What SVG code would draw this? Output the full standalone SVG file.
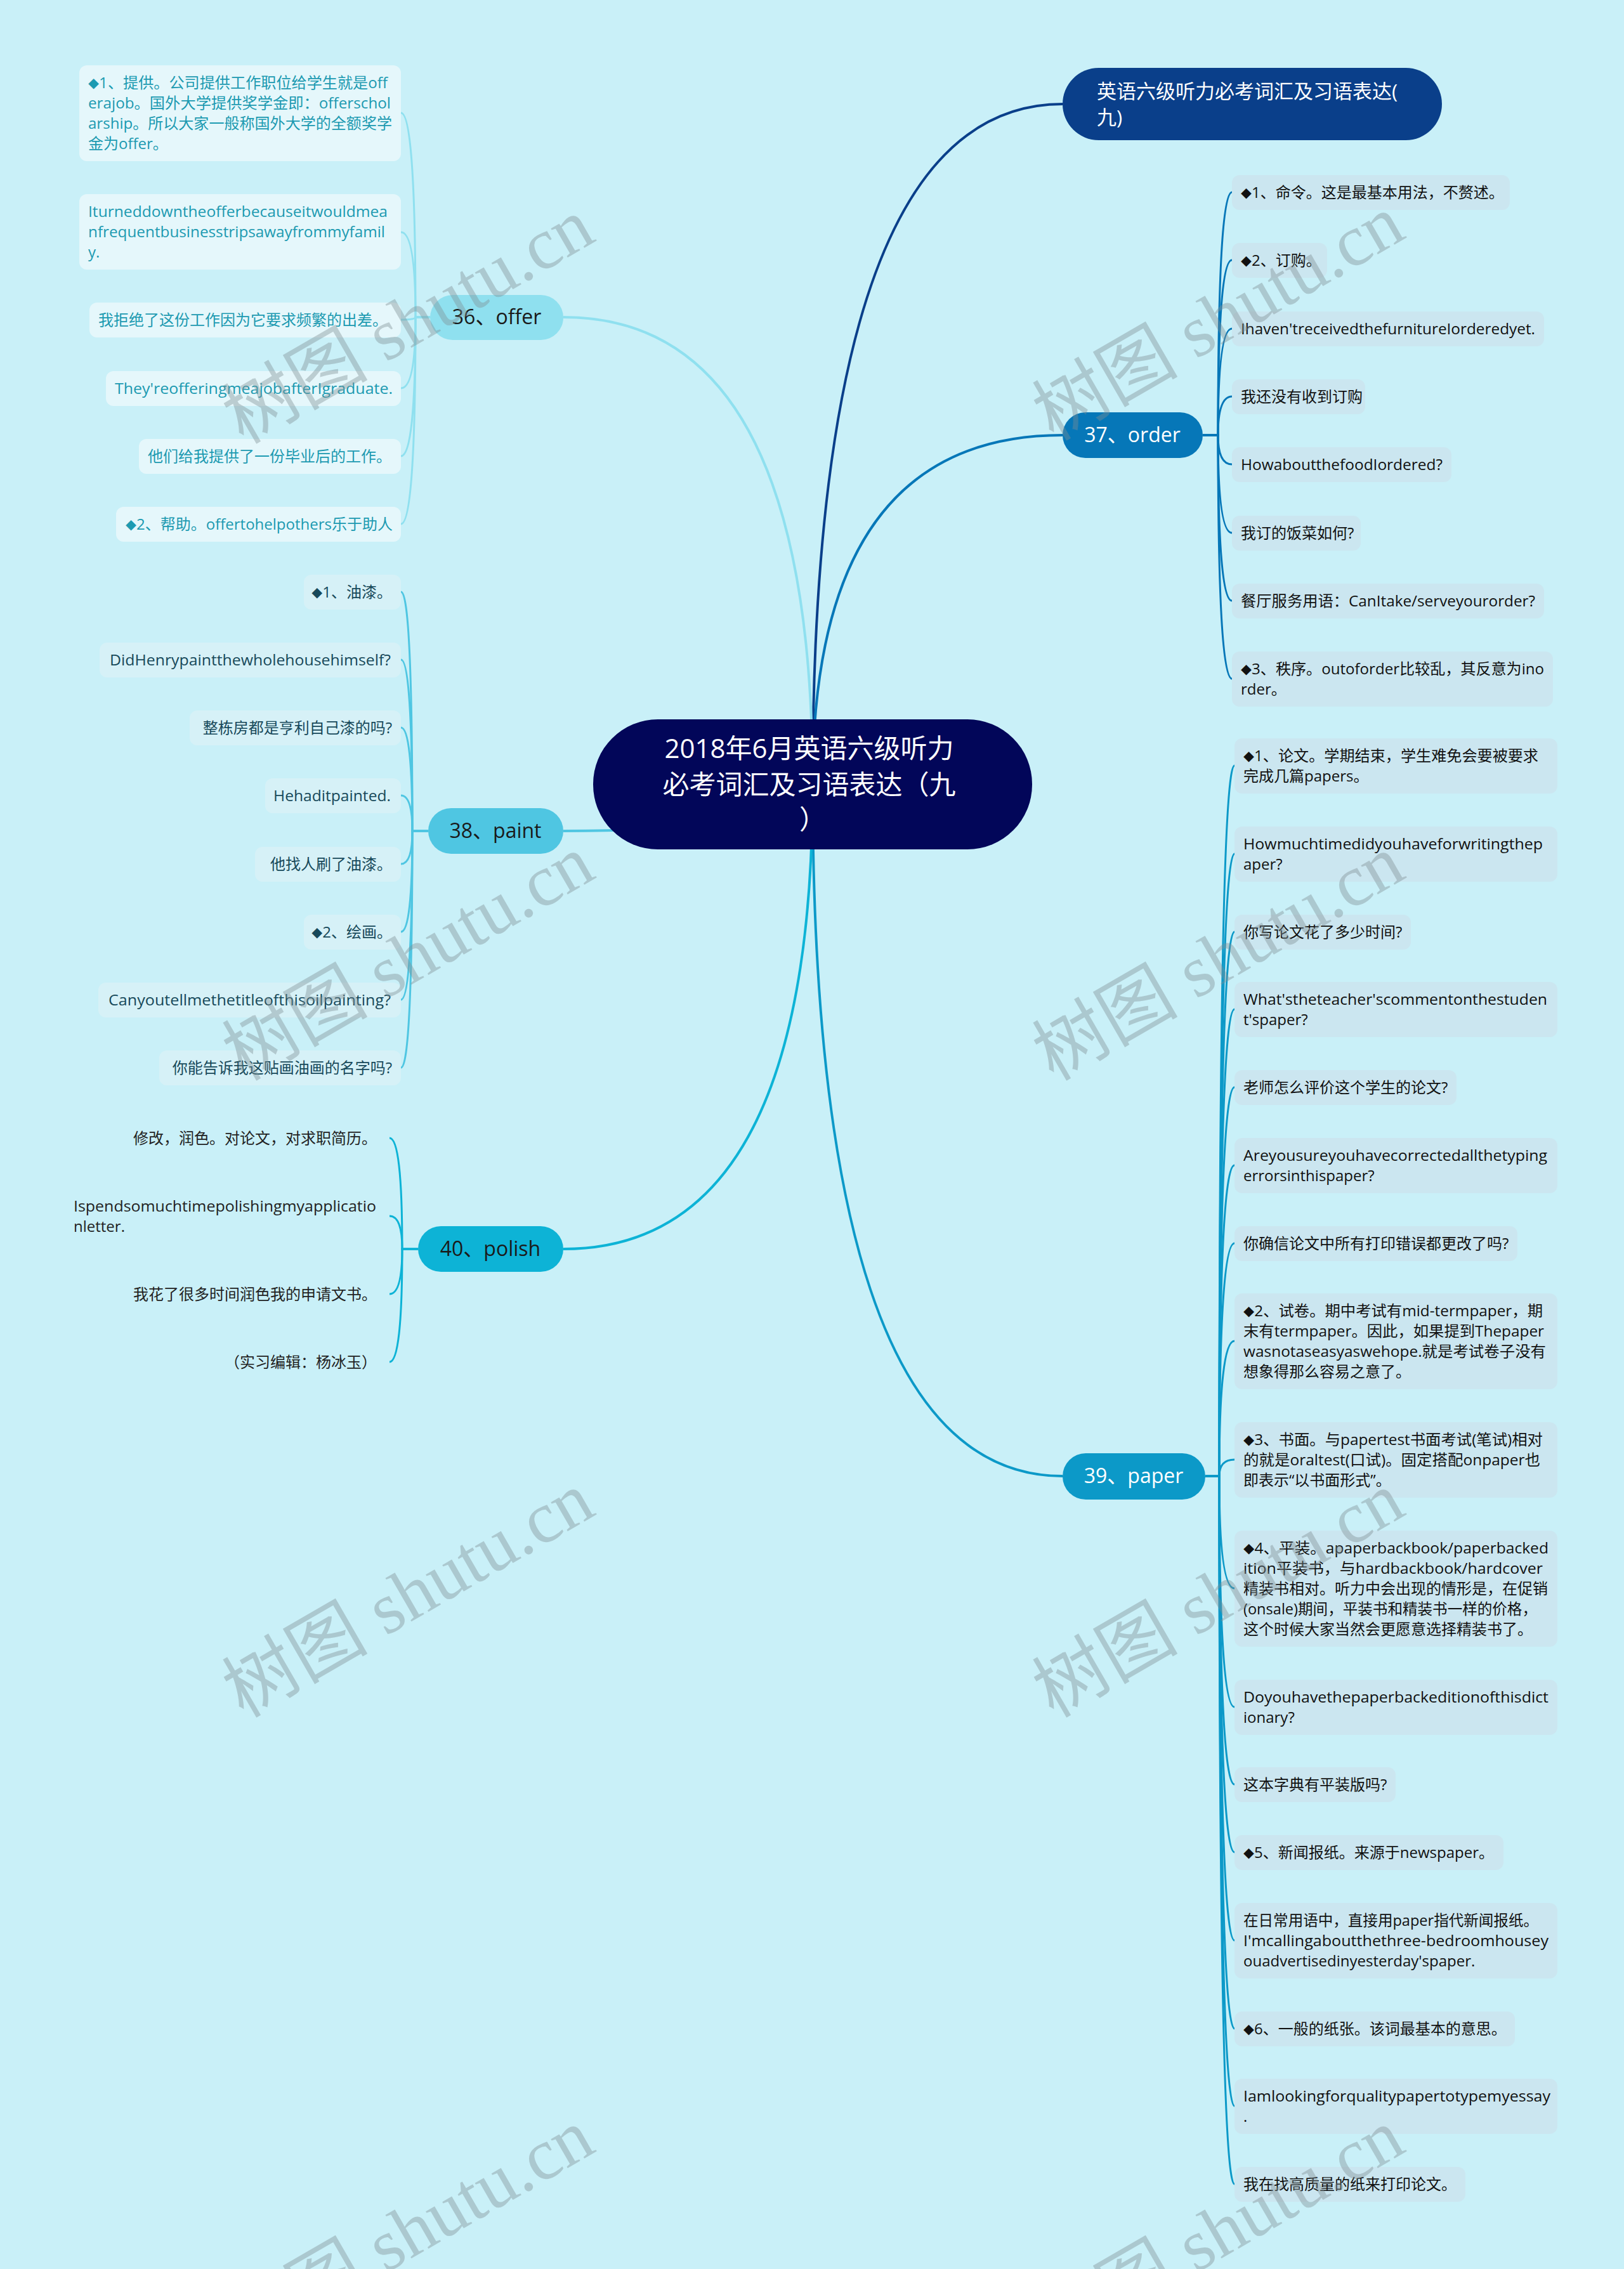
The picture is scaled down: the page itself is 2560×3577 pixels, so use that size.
<svg xmlns="http://www.w3.org/2000/svg" width="2560" height="3577" viewBox="0 0 2560 3577">
<style>
.t{font-family:"Open Sans","Noto Sans CJK SC",sans-serif;font-size:24px}
.d{font-size:17px}
.to{fill:#1c9ab1}
.tp{fill:#17495a}
.tr{fill:#111111}
.tl{fill:#222222}
.bo{fill:#e5f7fb}
.bp{fill:#d6f1f7}
.br{fill:#cbe6f0}
.c{fill:none;stroke-width:3}
.m{fill:none;stroke-width:4}
.nl{font-family:"Open Sans","Noto Sans CJK SC",sans-serif;font-size:32px;text-anchor:middle}
.wm{font-family:"Liberation Serif","Noto Sans CJK SC",serif;font-size:115px;fill:#7f8f94;opacity:0.4;text-anchor:middle}
</style>
<rect width="2560" height="3577" fill="#c9f0f8"/>

<g id="connectors">
  <path class="m" stroke="#0a3f8a" d="M1281,1236 Q1281,164 1675,164"/>
  <path class="m" stroke="#0677b8" d="M1281,1236 Q1281,686 1675,686"/>
  <path class="m" stroke="#0c99c8" d="M1281,1236 Q1281,2327 1675,2327"/>
  <path class="m" stroke="#8fe0ef" d="M1281,1236 Q1281,500 888,500"/>
  <path class="m" stroke="#4fc6e2" d="M1281,1236 Q1281,1310 888,1310"/>
  <path class="m" stroke="#0db3d6" d="M1281,1236 Q1281,1969 888,1969"/>
  <g stroke="#8fe0ef">
    <path class="c" d="M678,500 L655,500 Q655,178 632,178"/>
    <path class="c" d="M678,500 L655,500 Q655,366 632,366"/>
    <path class="c" d="M678,500 L655,500 Q655,504 632,504"/>
    <path class="c" d="M678,500 L655,500 Q655,612 632,612"/>
    <path class="c" d="M678,500 L655,500 Q655,719 632,719"/>
    <path class="c" d="M678,500 L655,500 Q655,826 632,826"/>
  </g>
  <g stroke="#4fc6e2">
    <path class="c" d="M675,1310 L650,1310 Q650,933 632,933"/>
    <path class="c" d="M675,1310 L650,1310 Q650,1040 632,1040"/>
    <path class="c" d="M675,1310 L650,1310 Q650,1147 632,1147"/>
    <path class="c" d="M675,1310 L650,1310 Q650,1254 632,1254"/>
    <path class="c" d="M675,1310 L650,1310 Q650,1362 632,1362"/>
    <path class="c" d="M675,1310 L650,1310 Q650,1469 632,1469"/>
    <path class="c" d="M675,1310 L650,1310 Q650,1576 632,1576"/>
    <path class="c" d="M675,1310 L650,1310 Q650,1683 632,1683"/>
  </g>
  <g stroke="#0db3d6">
    <path class="c" d="M659,1969 L634,1969 Q634,1794 614,1794"/>
    <path class="c" d="M659,1969 L634,1969 Q634,1917 614,1917"/>
    <path class="c" d="M659,1969 L634,1969 Q634,2040 614,2040"/>
    <path class="c" d="M659,1969 L634,1969 Q634,2147 614,2147"/>
  </g>
  <g stroke="#0677b8">
    <path class="c" d="M1896,686 L1920,686 Q1920,303 1942,303"/>
    <path class="c" d="M1896,686 L1920,686 Q1920,410 1942,410"/>
    <path class="c" d="M1896,686 L1920,686 Q1920,518 1942,518"/>
    <path class="c" d="M1896,686 L1920,686 Q1920,625 1942,625"/>
    <path class="c" d="M1896,686 L1920,686 Q1920,732 1942,732"/>
    <path class="c" d="M1896,686 L1920,686 Q1920,840 1942,840"/>
    <path class="c" d="M1896,686 L1920,686 Q1920,947 1942,947"/>
    <path class="c" d="M1896,686 L1920,686 Q1920,1070 1942,1070"/>
  </g>
  <g stroke="#0c99c8">
    <path class="c" d="M1900,2327 L1922,2327 Q1922,1207 1946,1207"/>
    <path class="c" d="M1900,2327 L1922,2327 Q1922,1346 1946,1346"/>
    <path class="c" d="M1900,2327 L1922,2327 Q1922,1469 1946,1469"/>
    <path class="c" d="M1900,2327 L1922,2327 Q1922,1591 1946,1591"/>
    <path class="c" d="M1900,2327 L1922,2327 Q1922,1714 1946,1714"/>
    <path class="c" d="M1900,2327 L1922,2327 Q1922,1837 1946,1837"/>
    <path class="c" d="M1900,2327 L1922,2327 Q1922,1960 1946,1960"/>
    <path class="c" d="M1900,2327 L1922,2327 Q1922,2114 1946,2114"/>
    <path class="c" d="M1900,2327 L1922,2327 Q1922,2301 1946,2301"/>
    <path class="c" d="M1900,2327 L1922,2327 Q1922,2504 1946,2504"/>
    <path class="c" d="M1900,2327 L1922,2327 Q1922,2691 1946,2691"/>
    <path class="c" d="M1900,2327 L1922,2327 Q1922,2813 1946,2813"/>
    <path class="c" d="M1900,2327 L1922,2327 Q1922,2920 1946,2920"/>
    <path class="c" d="M1900,2327 L1922,2327 Q1922,3059 1946,3059"/>
    <path class="c" d="M1900,2327 L1922,2327 Q1922,3198 1946,3198"/>
    <path class="c" d="M1900,2327 L1922,2327 Q1922,3320 1946,3320"/>
    <path class="c" d="M1900,2327 L1922,2327 Q1922,3443 1946,3443"/>
  </g>
</g>

<g id="root">
  <rect x="935" y="1134" width="692" height="205" rx="102" fill="#020659"/>
  <text class="nl" font-size="42" style="font-size:42px" fill="#ffffff">
    <tspan x="1281" y="1195">2018年6月英语六级听力</tspan>
    <tspan x="1281" y="1252">必考词汇及习语表达（九</tspan>
    <tspan x="1281" y="1307">）</tspan>
  </text>
</g>

<g id="n-title">
  <rect x="1675" y="107" width="598" height="114" rx="57" fill="#0a3f8a"/>
  <text class="t" style="font-size:31px" fill="#ffffff">
    <tspan x="1729" y="155">英语六级听力必考词汇及习语表达(</tspan>
    <tspan x="1729" y="196">九)</tspan>
  </text>
</g>

<g id="n-offer">
  <rect x="678" y="465" width="210" height="71" rx="35.5" fill="#8fe0ef"/>
  <text class="nl" x="783" y="511" fill="#1a1a1a">36、offer</text>
</g>
<g id="n-order">
  <rect x="1675" y="650" width="221" height="72" rx="36" fill="#0677b8"/>
  <text class="nl" x="1785" y="697" fill="#ffffff">37、order</text>
</g>
<g id="n-paint">
  <rect x="675" y="1274" width="213" height="72" rx="36" fill="#4fc6e2"/>
  <text class="nl" x="781" y="1321" fill="#1a1a1a">38、paint</text>
</g>
<g id="n-paper">
  <rect x="1675" y="2291" width="225" height="73" rx="36.5" fill="#0c99c8"/>
  <text class="nl" x="1787" y="2338" fill="#ffffff">39、paper</text>
</g>
<g id="n-polish">
  <rect x="659" y="1933" width="229" height="72" rx="36" fill="#0db3d6"/>
  <text class="nl" x="773" y="1980" fill="#1a1a1a">40、polish</text>
</g>

<!-- offer leaves -->
<g id="offer-1">
  <rect class="bo" x="125" y="103" width="507" height="151" rx="12"/>
  <text class="t to" x="139" y="139" textLength="472" lengthAdjust="spacingAndGlyphs"><tspan class="d">◆</tspan>1、提供。公司提供工作职位给学生就是off</text>
  <text class="t to" x="139" y="171" textLength="477" lengthAdjust="spacingAndGlyphs">erajob。国外大学提供奖学金即：offerschol</text>
  <text class="t to" x="139" y="203" textLength="479" lengthAdjust="spacingAndGlyphs">arship。所以大家一般称国外大学的全额奖学</text>
  <text class="t to" x="139" y="235">金为offer。</text>
</g>
<g id="offer-2">
  <rect class="bo" x="125" y="306" width="507" height="119" rx="12"/>
  <text class="t to" x="139" y="342" textLength="472" lengthAdjust="spacingAndGlyphs">Iturneddowntheofferbecauseitwouldmea</text>
  <text class="t to" x="139" y="374" textLength="468" lengthAdjust="spacingAndGlyphs">nfrequentbusinesstripsawayfrommyfamil</text>
  <text class="t to" x="139" y="406">y.</text>
</g>
<g id="offer-3">
  <rect class="bo" x="141" y="477" width="491" height="55" rx="12"/>
  <text class="t to" x="155" y="513">我拒绝了这份工作因为它要求频繁的出差。</text>
</g>
<g id="offer-4">
  <rect class="bo" x="167" y="585" width="465" height="55" rx="12"/>
  <text class="t to" x="181" y="621" textLength="438" lengthAdjust="spacingAndGlyphs">They'reofferingmeajobafterIgraduate.</text>
</g>
<g id="offer-5">
  <rect class="bo" x="219" y="692" width="413" height="55" rx="12"/>
  <text class="t to" x="233" y="728">他们给我提供了一份毕业后的工作。</text>
</g>
<g id="offer-6">
  <rect class="bo" x="183" y="799" width="449" height="55" rx="12"/>
  <text class="t to" x="619" y="835" text-anchor="end"><tspan class="d">◆</tspan>2、帮助。offertohelpothers乐于助人</text>
</g>

<!-- paint leaves -->
<g id="paint-1">
  <rect class="bp" x="479" y="906" width="153" height="55" rx="12"/>
  <text class="t tp" x="618" y="942" text-anchor="end"><tspan class="d">◆</tspan>1、油漆。</text>
</g>
<g id="paint-2">
  <rect class="bp" x="157" y="1013" width="475" height="55" rx="12"/>
  <text class="t tp" x="173" y="1049" textLength="443" lengthAdjust="spacingAndGlyphs">DidHenrypaintthewholehousehimself?</text>
</g>
<g id="paint-3">
  <rect class="bp" x="299" y="1120" width="333" height="55" rx="12"/>
  <text class="t tp" x="618" y="1156" text-anchor="end">整栋房都是亨利自己漆的吗?</text>
</g>
<g id="paint-4">
  <rect class="bp" x="418" y="1227" width="214" height="55" rx="12"/>
  <text class="t tp" x="431" y="1263" textLength="185" lengthAdjust="spacingAndGlyphs">Hehaditpainted.</text>
</g>
<g id="paint-5">
  <rect class="bp" x="402" y="1335" width="230" height="55" rx="12"/>
  <text class="t tp" x="618" y="1371" text-anchor="end">他找人刷了油漆。</text>
</g>
<g id="paint-6">
  <rect class="bp" x="479" y="1442" width="153" height="55" rx="12"/>
  <text class="t tp" x="618" y="1478" text-anchor="end"><tspan class="d">◆</tspan>2、绘画。</text>
</g>
<g id="paint-7">
  <rect class="bp" x="155" y="1549" width="477" height="55" rx="12"/>
  <text class="t tp" x="171" y="1585" textLength="445" lengthAdjust="spacingAndGlyphs">Canyoutellmethetitleofthisoilpainting?</text>
</g>
<g id="paint-8">
  <rect class="bp" x="251" y="1656" width="381" height="55" rx="12"/>
  <text class="t tp" x="618" y="1692" text-anchor="end">你能告诉我这贴画油画的名字吗?</text>
</g>

<!-- polish leaves -->
<g id="polish-1">
  <text class="t tl" x="594" y="1803" text-anchor="end">修改，润色。对论文，对求职简历。</text>
</g>
<g id="polish-2">
  <text class="t tl" x="116" y="1910" textLength="477" lengthAdjust="spacingAndGlyphs">Ispendsomuchtimepolishingmyapplicatio</text>
  <text class="t tl" x="116" y="1942">nletter.</text>
</g>
<g id="polish-3">
  <text class="t tl" x="594" y="2049" text-anchor="end">我花了很多时间润色我的申请文书。</text>
</g>
<g id="polish-4">
  <text class="t tl" x="594" y="2156" text-anchor="end">（实习编辑：杨冰玉）</text>
</g>

<!-- order leaves -->
<g id="order-1">
  <rect class="br" x="1942" y="276" width="438" height="55" rx="12"/>
  <text class="t tr" x="1956" y="312"><tspan class="d">◆</tspan>1、命令。这是最基本用法，不赘述。</text>
</g>
<g id="order-2">
  <rect class="br" x="1942" y="383" width="150" height="55" rx="12"/>
  <text class="t tr" x="1956" y="419"><tspan class="d">◆</tspan>2、订购。</text>
</g>
<g id="order-3">
  <rect class="br" x="1942" y="491" width="492" height="55" rx="12"/>
  <text class="t tr" x="1956" y="527" textLength="464" lengthAdjust="spacingAndGlyphs">Ihaven'treceivedthefurnitureIorderedyet.</text>
</g>
<g id="order-4">
  <rect class="br" x="1942" y="598" width="210" height="55" rx="12"/>
  <text class="t tr" x="1956" y="634">我还没有收到订购</text>
</g>
<g id="order-5">
  <rect class="br" x="1942" y="705" width="346" height="55" rx="12"/>
  <text class="t tr" x="1956" y="741" textLength="318" lengthAdjust="spacingAndGlyphs">HowaboutthefoodIordered?</text>
</g>
<g id="order-6">
  <rect class="br" x="1942" y="813" width="203" height="55" rx="12"/>
  <text class="t tr" x="1956" y="849">我订的饭菜如何?</text>
</g>
<g id="order-7">
  <rect class="br" x="1942" y="920" width="492" height="55" rx="12"/>
  <text class="t tr" x="1956" y="956" textLength="464" lengthAdjust="spacingAndGlyphs">餐厅服务用语：CanItake/serveyourorder?</text>
</g>
<g id="order-8">
  <rect class="br" x="1942" y="1027" width="506" height="87" rx="12"/>
  <text class="t tr" x="1956" y="1063" textLength="478" lengthAdjust="spacingAndGlyphs"><tspan class="d">◆</tspan>3、秩序。outoforder比较乱，其反意为ino</text>
  <text class="t tr" x="1956" y="1095">rder。</text>
</g>

<!-- paper leaves -->
<g id="paper-1">
  <rect class="br" x="1946" y="1164" width="509" height="87" rx="12"/>
  <text class="t tr" x="1960" y="1200" textLength="465" lengthAdjust="spacingAndGlyphs"><tspan class="d">◆</tspan>1、论文。学期结束，学生难免会要被要求</text>
  <text class="t tr" x="1960" y="1232">完成几篇papers。</text>
</g>
<g id="paper-2">
  <rect class="br" x="1946" y="1303" width="509" height="87" rx="12"/>
  <text class="t tr" x="1960" y="1339" textLength="472" lengthAdjust="spacingAndGlyphs">Howmuchtimedidyouhaveforwritingthep</text>
  <text class="t tr" x="1960" y="1371">aper?</text>
</g>
<g id="paper-3">
  <rect class="br" x="1946" y="1442" width="278" height="55" rx="12"/>
  <text class="t tr" x="1960" y="1478">你写论文花了多少时间?</text>
</g>
<g id="paper-4">
  <rect class="br" x="1946" y="1548" width="509" height="87" rx="12"/>
  <text class="t tr" x="1960" y="1584" textLength="479" lengthAdjust="spacingAndGlyphs">What'stheteacher'scommentonthestuden</text>
  <text class="t tr" x="1960" y="1616">t'spaper?</text>
</g>
<g id="paper-5">
  <rect class="br" x="1946" y="1687" width="350" height="55" rx="12"/>
  <text class="t tr" x="1960" y="1723">老师怎么评价这个学生的论文?</text>
</g>
<g id="paper-6">
  <rect class="br" x="1946" y="1794" width="509" height="87" rx="12"/>
  <text class="t tr" x="1960" y="1830" textLength="479" lengthAdjust="spacingAndGlyphs">Areyousureyouhavecorrectedallthetyping</text>
  <text class="t tr" x="1960" y="1862">errorsinthispaper?</text>
</g>
<g id="paper-7">
  <rect class="br" x="1946" y="1933" width="446" height="55" rx="12"/>
  <text class="t tr" x="1960" y="1969">你确信论文中所有打印错误都更改了吗?</text>
</g>
<g id="paper-8">
  <rect class="br" x="1946" y="2039" width="509" height="151" rx="12"/>
  <text class="t tr" x="1960" y="2075" textLength="472" lengthAdjust="spacingAndGlyphs"><tspan class="d">◆</tspan>2、试卷。期中考试有mid-termpaper，期</text>
  <text class="t tr" x="1960" y="2107" textLength="474" lengthAdjust="spacingAndGlyphs">末有termpaper。因此，如果提到Thepaper</text>
  <text class="t tr" x="1960" y="2139" textLength="477" lengthAdjust="spacingAndGlyphs">wasnotaseasyaswehope.就是考试卷子没有</text>
  <text class="t tr" x="1960" y="2171">想象得那么容易之意了。</text>
</g>
<g id="paper-9">
  <rect class="br" x="1946" y="2242" width="509" height="119" rx="12"/>
  <text class="t tr" x="1960" y="2278" textLength="472" lengthAdjust="spacingAndGlyphs"><tspan class="d">◆</tspan>3、书面。与papertest书面考试(笔试)相对</text>
  <text class="t tr" x="1960" y="2310" textLength="468" lengthAdjust="spacingAndGlyphs">的就是oraltest(口试)。固定搭配onpaper也</text>
  <text class="t tr" x="1960" y="2342">即表示“以书面形式”。</text>
</g>
<g id="paper-10">
  <rect class="br" x="1946" y="2413" width="509" height="183" rx="12"/>
  <text class="t tr" x="1960" y="2449" textLength="481" lengthAdjust="spacingAndGlyphs"><tspan class="d">◆</tspan>4、平装。apaperbackbook/paperbacked</text>
  <text class="t tr" x="1960" y="2481" textLength="472" lengthAdjust="spacingAndGlyphs">ition平装书，与hardbackbook/hardcover</text>
  <text class="t tr" x="1960" y="2513">精装书相对。听力中会出现的情形是，在促销</text>
  <text class="t tr" x="1960" y="2545" textLength="463" lengthAdjust="spacingAndGlyphs">(onsale)期间，平装书和精装书一样的价格，</text>
  <text class="t tr" x="1960" y="2577">这个时候大家当然会更愿意选择精装书了。</text>
</g>
<g id="paper-11">
  <rect class="br" x="1946" y="2648" width="509" height="87" rx="12"/>
  <text class="t tr" x="1960" y="2684" textLength="481" lengthAdjust="spacingAndGlyphs">Doyouhavethepaperbackeditionofthisdict</text>
  <text class="t tr" x="1960" y="2716">ionary?</text>
</g>
<g id="paper-12">
  <rect class="br" x="1946" y="2786" width="254" height="55" rx="12"/>
  <text class="t tr" x="1960" y="2822">这本字典有平装版吗?</text>
</g>
<g id="paper-13">
  <rect class="br" x="1946" y="2893" width="424" height="55" rx="12"/>
  <text class="t tr" x="1960" y="2929"><tspan class="d">◆</tspan>5、新闻报纸。来源于newspaper。</text>
</g>
<g id="paper-14">
  <rect class="br" x="1946" y="3000" width="509" height="119" rx="12"/>
  <text class="t tr" x="1960" y="3036" textLength="465" lengthAdjust="spacingAndGlyphs">在日常用语中，直接用paper指代新闻报纸。</text>
  <text class="t tr" x="1960" y="3068" textLength="481" lengthAdjust="spacingAndGlyphs">I'mcallingaboutthethree-bedroomhousey</text>
  <text class="t tr" x="1960" y="3100">ouadvertisedinyesterday'spaper.</text>
</g>
<g id="paper-15">
  <rect class="br" x="1946" y="3171" width="442" height="55" rx="12"/>
  <text class="t tr" x="1960" y="3207"><tspan class="d">◆</tspan>6、一般的纸张。该词最基本的意思。</text>
</g>
<g id="paper-16">
  <rect class="br" x="1946" y="3277" width="509" height="87" rx="12"/>
  <text class="t tr" x="1960" y="3313" textLength="484" lengthAdjust="spacingAndGlyphs">Iamlookingforqualitypapertotypemyessay</text>
  <text class="t tr" x="1960" y="3345">.</text>
</g>
<g id="paper-17">
  <rect class="br" x="1946" y="3416" width="364" height="55" rx="12"/>
  <text class="t tr" x="1960" y="3452">我在找高质量的纸来打印论文。</text>
</g>

<g id="watermark">
  <text class="wm" transform="rotate(-30 644 507)" x="644" y="545">树图 shutu.cn</text>
  <text class="wm" transform="rotate(-30 1921 502)" x="1921" y="540">树图 shutu.cn</text>
  <text class="wm" transform="rotate(-30 644 1511)" x="644" y="1549">树图 shutu.cn</text>
  <text class="wm" transform="rotate(-30 1921 1511)" x="1921" y="1549">树图 shutu.cn</text>
  <text class="wm" transform="rotate(-30 644 2515)" x="644" y="2553">树图 shutu.cn</text>
  <text class="wm" transform="rotate(-30 1921 2515)" x="1921" y="2553">树图 shutu.cn</text>
  <text class="wm" transform="rotate(-30 644 3519)" x="644" y="3557">树图 shutu.cn</text>
  <text class="wm" transform="rotate(-30 1921 3519)" x="1921" y="3557">树图 shutu.cn</text>
</g>
</svg>
